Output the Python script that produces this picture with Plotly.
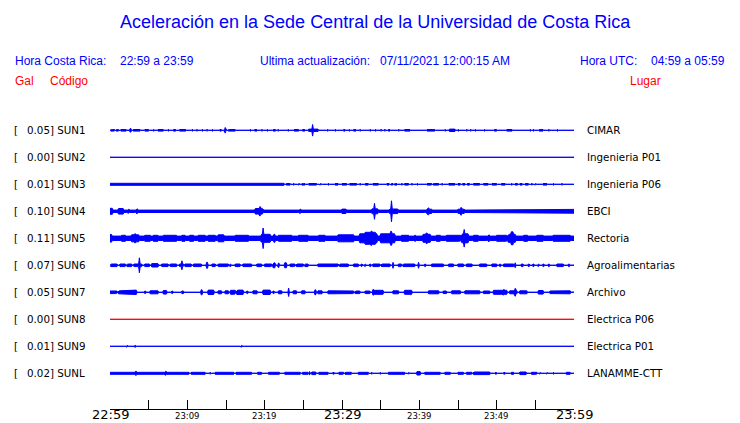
import numpy as np
import plotly.graph_objects as go

# ---------------- data ----------------
CODES = ["SUN1", "SUN2", "SUN3", "SUN4", "SUN5", "SUN6", "SUN7", "SUN8", "SUN9", "SUNL"]
GAL = ["0.05", "0.00", "0.01", "0.10", "0.11", "0.07", "0.05", "0.00", "0.01", "0.02"]
PLACES = ["CIMAR", "Ingenieria P01", "Ingenieria P06", "EBCI", "Rectoria",
          "Agroalimentarias", "Archivo", "Electrica P06", "Electrica P01", "LANAMME-CTT"]

TICK_MINUTES = [0, 5, 10, 15, 20, 25, 30, 35, 40, 45, 50, 55, 60]
BIG_LABELS = {0: "22:59", 30: "23:29", 60: "23:59"}
SMALL_LABELS = {10: "23:09", 20: "23:19", 40: "23:39", 50: "23:49"}

# baseline half-amplitude of each record (relative units ~ px)
BASE = [0.5, 0.5, 0.5, 1.7, 2.7, 0.6, 0.6, 0.5, 0.5, 0.5]

# bursts: (start minute, end minute, half amplitude)
SUN1_EV = [(0.1, 0.55, 1.3), (0.75, 1.15, 1.3), (1.4, 2.1, 1.3), (2.65, 2.7, 2.3), (3.0, 3.9, 1.3),
           (4.5, 5.0, 1.3), (5.6, 5.7, 1.3), (6.2, 6.9, 1.3), (7.5, 7.6, 1.3), (8.2, 8.5, 1.3),
           (9.05, 9.8, 1.3), (10.6, 10.7, 1.3), (11.2, 11.3, 1.3), (11.9, 12.0, 1.3), (12.5, 12.6, 1.3),
           (13.2, 13.3, 1.3), (14.2, 14.45, 1.3), (14.9, 14.95, 3.3), (15.3, 16.2, 1.3), (18.1, 18.2, 1.3),
           (18.7, 19.0, 1.3), (19.6, 19.7, 1.3), (20.3, 20.4, 1.3), (21.1, 21.35, 1.3), (21.7, 21.8, 1.3),
           (23.0, 23.1, 1.3), (23.8, 24.4, 1.3), (24.9, 25.2, 1.3), (25.7, 26.9, 1.7), (26.2, 26.25, 6.3),
           (28.1, 28.2, 1.3), (29.1, 29.2, 1.3), (30.2, 30.4, 1.3), (30.9, 31.0, 1.3), (31.5, 31.8, 1.3),
           (32.3, 32.4, 1.3), (33.6, 33.7, 1.3), (34.3, 34.4, 1.3), (35.0, 35.1, 1.3), (35.5, 35.6, 1.3),
           (36.0, 36.25, 1.3), (37.3, 37.4, 1.3), (38.1, 38.8, 1.3), (41.0, 42.0, 1.3), (43.3, 43.4, 1.3),
           (43.9, 44.6, 1.7), (45.0, 45.1, 1.3), (46.1, 46.2, 1.3), (46.6, 46.7, 1.3), (47.2, 47.3, 1.3),
           (48.4, 48.5, 1.3), (49.7, 50.0, 1.3), (51.3, 52.0, 1.3), (54.3, 54.4, 1.3), (54.7, 54.8, 1.3),
           (55.5, 56.0, 1.3), (56.7, 56.8, 1.3), (57.8, 57.9, 1.3)]
SUN2_EV = []
SUN3_EV = [(0.0, 22.5, 1.5), (22.84, 23.28, 1.3), (23.7, 23.8, 1.3), (24.35, 24.45, 1.3), (24.8, 25.2, 1.3),
           (25.7, 26.7, 1.3), (27.16, 27.25, 1.3), (28.2, 28.3, 1.3), (29.1, 29.5, 1.3), (29.96, 30.6, 1.3),
           (30.95, 31.9, 1.3), (32.33, 32.4, 1.3), (32.97, 33.41, 1.3), (34.05, 34.7, 1.3), (35.78, 36.1, 1.3),
           (36.4, 36.6, 1.3), (36.85, 37.07, 1.3), (37.72, 37.8, 1.3), (38.15, 38.58, 1.3), (39.0, 39.1, 1.3),
           (39.66, 39.75, 1.3), (40.95, 41.6, 1.3), (41.8, 42.46, 1.3), (42.9, 43.0, 1.3), (43.75, 44.6, 1.3),
           (45.0, 45.3, 1.3), (45.6, 45.9, 1.3), (46.2, 46.55, 1.3), (46.98, 47.84, 1.3), (48.28, 48.9, 1.3),
           (49.35, 50.0, 1.3), (50.65, 51.1, 1.3), (51.94, 52.0, 1.3), (52.37, 52.7, 1.3), (53.0, 53.3, 1.3),
           (53.7, 54.1, 1.3), (54.5, 54.6, 1.3), (54.96, 55.05, 1.3), (56.03, 56.47, 1.3), (57.33, 57.4, 1.3),
           (58.4, 58.5, 1.3)]
SUN4_EV = [(0.0, 0.3, 3.5), (1.1, 1.7, 3.3), (2.4, 2.45, 2.5), (2.9, 2.95, 2.3), (3.5, 3.55, 3.0),
           (6.6, 6.65, 2.3), (7.3, 7.35, 2.2), (9.9, 9.95, 2.2), (11.0, 11.05, 2.2), (11.9, 11.95, 2.2),
           (12.7, 12.75, 2.3), (18.75, 19.7, 3.3), (19.4, 19.45, 5.3), (22.2, 22.25, 2.2), (24.6, 24.65, 2.7),
           (30.0, 30.5, 2.7), (32.5, 32.55, 2.3), (33.9, 34.6, 3.0), (34.2, 34.25, 8.5), (36.2, 37.2, 2.8),
           (36.4, 36.45, 11.0), (39.0, 39.05, 2.2), (41.0, 41.6, 2.6), (41.15, 41.2, 4.0), (42.4, 42.45, 2.3),
           (45.0, 45.8, 2.6), (45.4, 45.45, 4.5), (47.4, 47.45, 2.2), (50.0, 50.05, 2.2), (52.4, 52.8, 2.3),
           (54.1, 54.15, 2.2), (56.5, 56.55, 2.2), (59.8, 60.0, 2.4)]
SUN5_EV = [(0.0, 0.2, 4.3), (1.5, 2.0, 3.5), (2.8, 3.7, 4.0), (3.2, 3.3, 5.0), (4.5, 5.2, 3.5),
           (5.6, 6.25, 3.5), (6.9, 8.6, 3.5), (9.3, 9.7, 3.5), (10.3, 10.8, 3.5), (11.4, 12.3, 3.5),
           (12.7, 13.6, 3.5), (14.0, 14.7, 4.0), (16.2, 17.9, 3.5), (19.6, 20.7, 4.5), (19.8, 19.85, 10.8),
           (21.25, 21.3, 4.5), (21.8, 23.5, 3.5), (24.4, 25.6, 3.5), (27.0, 27.8, 3.5), (29.5, 31.5, 4.0),
           (32.3, 34.5, 5.0), (33.0, 34.3, 6.5), (33.8, 33.85, 7.8), (35.0, 36.8, 5.0), (36.3, 36.4, 7.5),
           (37.7, 38.6, 3.5), (39.4, 39.5, 3.5), (40.5, 41.4, 4.5), (40.9, 41.0, 5.8), (42.2, 42.7, 3.5),
           (43.5, 45.3, 3.5), (45.5, 46.3, 5.0), (45.8, 45.85, 9.3), (47.0, 47.6, 3.5), (49.0, 49.05, 4.0),
           (50.0, 51.3, 3.5), (51.5, 52.4, 4.5), (51.9, 52.1, 7.0), (53.5, 54.0, 3.5), (55.2, 56.0, 3.5),
           (57.3, 59.5, 3.5), (59.0, 59.05, 4.0)]
SUN6_EV = [(0.1, 0.9, 1.8), (1.3, 2.0, 1.8), (2.2, 2.8, 1.8), (3.1, 4.1, 1.8), (3.8, 3.85, 8.0),
           (4.5, 5.1, 1.8), (5.4, 6.25, 2.2), (6.7, 7.5, 1.8), (7.75, 8.6, 1.8), (9.05, 9.5, 1.8),
           (9.27, 9.32, 5.0), (9.7, 10.5, 1.8), (10.8, 11.85, 1.8), (12.5, 12.55, 3.5), (13.15, 13.6, 1.8),
           (14.0, 15.3, 1.8), (15.5, 15.6, 1.8), (16.2, 16.8, 1.8), (17.2, 18.3, 1.8), (18.97, 19.6, 1.8),
           (20.04, 20.9, 1.8), (21.1, 21.3, 3.0), (21.8, 21.85, 3.0), (22.6, 22.8, 3.0), (23.3, 23.9, 1.8),
           (24.1, 25.0, 1.8), (25.2, 25.6, 1.8), (26.9, 29.5, 1.8), (29.74, 30.4, 1.8), (30.4, 30.8, 1.8),
           (31.47, 32.1, 1.8), (32.5, 32.6, 1.8), (32.97, 33.05, 1.8), (33.62, 33.7, 1.8), (34.05, 34.9, 1.8),
           (35.13, 36.2, 1.8), (36.6, 36.65, 3.5), (37.28, 37.72, 1.8), (37.93, 39.44, 1.8), (39.87, 39.92, 3.5),
           (40.73, 40.8, 1.8), (41.59, 43.1, 1.8), (43.75, 44.4, 1.8), (45.04, 45.7, 1.8), (46.1, 46.77, 1.8),
           (47.84, 48.7, 1.8), (49.35, 50.0, 1.8), (50.43, 50.5, 1.8), (50.86, 52.16, 1.8), (52.37, 52.42, 3.0),
           (53.23, 53.45, 1.8), (54.1, 54.2, 1.8), (54.74, 54.8, 1.8), (55.39, 55.45, 1.8), (56.03, 56.1, 1.8),
           (56.68, 56.75, 1.8), (57.76, 58.62, 1.8), (59.27, 59.35, 1.8)]
SUN7_EV = [(0.0, 0.9, 1.8), (1.1, 2.4, 2.0), (2.4, 3.4, 2.7), (4.5, 4.6, 1.8), (5.17, 6.25, 2.0),
           (6.9, 7.3, 2.3), (7.97, 8.1, 1.8), (9.27, 9.5, 1.8), (11.85, 11.9, 3.0), (12.7, 13.4, 2.7),
           (14.0, 14.4, 2.0), (14.87, 15.3, 2.0), (15.6, 16.2, 2.5), (16.4, 17.2, 2.7), (17.67, 17.8, 1.8),
           (18.53, 18.97, 2.0), (19.83, 20.7, 2.7), (21.12, 21.2, 1.8), (21.77, 22.2, 2.0), (23.06, 23.11, 4.7),
           (23.71, 24.14, 2.0), (24.78, 25.22, 2.0), (26.5, 26.55, 3.0), (26.94, 27.37, 2.0), (28.2, 30.4, 2.0),
           (30.4, 31.47, 1.8), (31.68, 32.33, 1.8), (32.97, 33.62, 1.8), (34.05, 35.34, 2.5), (34.05, 34.1, 3.3),
           (36.64, 37.3, 2.0), (38.15, 39.0, 2.5), (38.88, 38.93, 3.0), (41.16, 42.46, 2.0), (43.1, 43.53, 1.8),
           (44.18, 45.26, 2.0), (45.9, 47.84, 2.0), (48.28, 49.14, 1.8), (49.57, 51.29, 2.5), (50.86, 50.91, 3.3),
           (51.72, 52.59, 2.0), (52.37, 52.42, 4.5), (53.02, 53.88, 2.0), (55.39, 56.03, 2.3), (56.9, 57.33, 1.8),
           (57.3, 59.48, 2.0)]
SUN8_EV = []
SUN9_EV = [(0.73, 0.78, 1.2), (1.4, 1.45, 1.2), (2.16, 2.25, 1.4), (3.2, 3.3, 1.4),
           (11.4, 11.45, 1.1), (11.6, 11.65, 1.1), (17.0, 17.05, 1.4)]
SUNL_EV = [(0.0, 10.2, 1.5), (3.3, 3.35, 2.5), (4.7, 5.2, 2.0), (7.15, 7.2, 2.5), (10.5, 12.3, 1.5),
           (12.9, 13.0, 1.3), (13.6, 16.0, 1.5), (16.3, 18.3, 1.5), (19.1, 19.6, 1.5), (20.5, 21.9, 1.5),
           (22.6, 24.6, 1.5), (24.9, 25.6, 1.5), (25.8, 25.85, 2.3), (26.1, 26.6, 1.8), (27.0, 28.2, 1.5),
           (28.8, 29.0, 1.3), (29.6, 30.2, 1.5), (30.39, 31.25, 1.5), (32.11, 33.41, 1.5), (33.84, 33.9, 1.3),
           (34.91, 35.0, 1.3), (35.99, 38.15, 1.5), (38.58, 38.65, 1.3), (39.66, 40.09, 2.2), (40.73, 42.67, 1.5),
           (43.32, 43.97, 1.5), (45.04, 45.69, 1.5), (46.12, 46.77, 1.5), (46.98, 49.14, 1.8), (49.78, 50.0, 1.3),
           (50.86, 51.08, 1.3), (51.94, 52.16, 1.5), (53.02, 53.8, 1.8), (54.53, 55.17, 1.5), (55.6, 55.65, 1.3),
           (56.47, 56.5, 1.3), (57.33, 57.4, 1.3), (59.05, 59.5, 1.5)]
EVENTS = [SUN1_EV, SUN2_EV, SUN3_EV, SUN4_EV, SUN5_EV, SUN6_EV, SUN7_EV, SUN8_EV, SUN9_EV, SUNL_EV]

# ---------------- styles / geometry ----------------
W, H = 740, 423
L, R, T, B = 110, 166, 117, 14
PW, PH = W - L - R, H - T - B
ROW0_PX, ROW_PX = 130.3, 27.0
Y_RANGE = [(H - B - ROW0_PX) / ROW_PX, (T - ROW0_PX) / ROW_PX]
COLORS = ["#0000ff"] * 7 + ["#ff0000"] + ["#0000ff"] * 2
BLUE, RED = "#0000ff", "#ff0000"
HDR_FONT = "Liberation Sans, Arial, sans-serif"
LBL_FONT = "DejaVu Sans, sans-serif"
LBL_SIZE = 10.3
DX = -1.5  # annotation padding compensation


def xp(px):
    return (px - L) / PW


def yp(py):
    return (H - B - py) / PH


DT = 0.1
grid = np.round(np.arange(0, 60 + DT / 2, DT), 3)

fig = go.Figure()
for i, code in enumerate(CODES):
    env = np.full(grid.size, BASE[i])
    for t0, t1, a in EVENTS[i]:
        i0, i1 = int(round(t0 / DT)), int(round(t1 / DT))
        env[i0:i1 + 1] = np.maximum(env[i0:i1 + 1], a)
    half = np.maximum(env - 0.5, 0.0) / ROW_PX
    xs = np.concatenate([grid, grid[::-1]])
    ys = np.concatenate([i - half, (i + half)[::-1]])
    fig.add_trace(go.Scatter(x=xs, y=ys, mode="lines", fill="toself",
                             fillcolor=COLORS[i], line=dict(color=COLORS[i], width=1),
                             hoverinfo="skip", showlegend=False))

ann = []


def text(x, y, s, size, color, font, xanchor="left", xref="paper", yref="paper", yanchor="middle"):
    ann.append(dict(x=x, y=y, xref=xref, yref=yref, text=s, showarrow=False,
                    xanchor=xanchor, yanchor=yanchor, borderpad=0,
                    font=dict(size=size, color=color, family=font)))


# title and header
text(xp(375), yp(22), "Aceleración en la Sede Central de la Universidad de Costa Rica", 18, BLUE, HDR_FONT, "center")
text(xp(15 + DX), yp(61), "Hora Costa Rica:", 12, BLUE, HDR_FONT)
text(xp(120 + DX), yp(61), "22:59 a 23:59", 12, BLUE, HDR_FONT)
text(xp(260.7 + DX), yp(61), "Ultima actualización:", 12, BLUE, HDR_FONT)
text(xp(380 + DX), yp(61), "07/11/2021 12:00:15 AM", 12, BLUE, HDR_FONT)
text(xp(580.7 + DX), yp(61), "Hora UTC:", 12, BLUE, HDR_FONT)
text(xp(651 + DX), yp(61), "04:59 a 05:59", 12, BLUE, HDR_FONT)
text(xp(15 + DX), yp(81), "Gal", 12, RED, HDR_FONT)
text(xp(50 + DX), yp(81), "Código", 12, RED, HDR_FONT)
text(xp(630 + DX), yp(81), "Lugar", 12, RED, HDR_FONT)

# station labels
for i, code in enumerate(CODES):
    text(xp(14.5 + DX), i, "[", LBL_SIZE, "black", LBL_FONT, yref="y")
    text(xp(27.7 + DX), i, f"{GAL[i]}] {code}", LBL_SIZE, "black", LBL_FONT, yref="y")
    text(xp(587.3 + DX), i, PLACES[i], LBL_SIZE, "black", LBL_FONT, yref="y")

# time labels
for m, s in BIG_LABELS.items():
    text(m, yp(422.5), s, 13, "black", LBL_FONT, "center", xref="x", yanchor="bottom")
for m, s in SMALL_LABELS.items():
    text(m, yp(415.5), s, 8.5, "black", LBL_FONT, "center", xref="x")

fig.update_layout(
    width=W, height=H, margin=dict(l=L, r=R, t=T, b=B, pad=0),
    paper_bgcolor="white", plot_bgcolor="white",
    annotations=ann,
    xaxis=dict(range=[0, 60], showgrid=False, zeroline=False, showline=True,
               linecolor="black", linewidth=1, ticks="inside", ticklen=9, tickwidth=1,
               tickcolor="black", tickvals=TICK_MINUTES, showticklabels=False, fixedrange=True),
    yaxis=dict(range=Y_RANGE, showgrid=False, zeroline=False, showline=False,
               showticklabels=False, ticks="", fixedrange=True),
)
fig.write_html("out.html", config={"displayModeBar": False},
               post_script="document.body.style.margin='0';document.body.style.overflow='hidden';")
